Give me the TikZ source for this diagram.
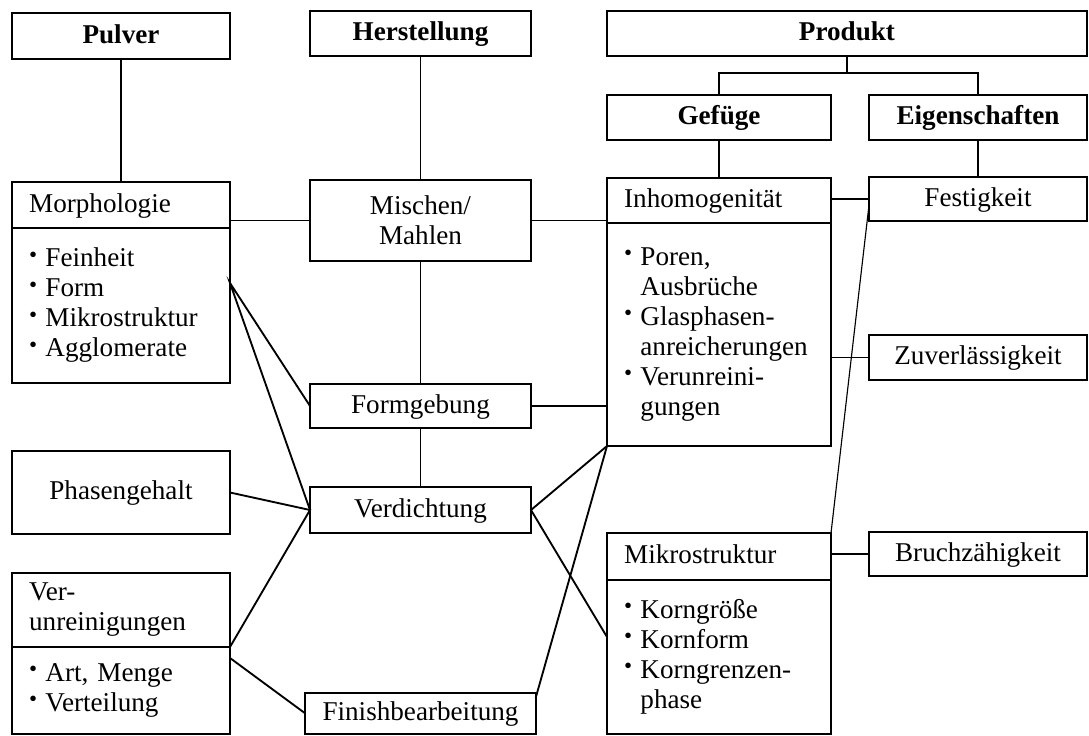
\documentclass[tikz,border=0pt]{standalone}
\usepackage{fontspec}
\setmainfont{Liberation Serif}
\usepackage{tikz}
\usetikzlibrary{positioning,calc}
\newcommand{\pkt}{\makebox[0.6em][l]{\raisebox{.4ex}{\scalebox{.85}{\textbullet}}}}
\newcommand{\ein}{\hspace*{0.6em}}

\begin{document}
\begin{tikzpicture}[x=0.35pt, y=-0.35pt, font=\fontsize{9.5}{10.5}\selectfont,
 box/.style={draw, line width=0.75pt, outer sep=0pt, inner xsep=6pt, inner ysep=1pt,
 minimum width=76.3pt, minimum height=15.75pt, align=center},
 one/.style={text height=7pt, text depth=2pt},
 title/.style={box, one, font=\fontsize{9.5}{10.5}\selectfont\bfseries},
 lbox/.style={box, align=left, text width=#1},
 link/.style={line width=0.65pt}]
\useasboundingbox (0,0) rectangle (1089,736);
% Kopfzeile
\node[title, minimum height=16.1pt] (pulver) at (121,36) {Pulver};
\node[title, minimum width=77.35pt] (herst) at (420.5,33.5) {Herstellung};
\node[title, minimum width=168pt] (prod) at (847,33.5) {Produkt};
\node[title, minimum width=78.4pt] (gef) at (719,117.5) {Gefüge};
\node[title] (eig) at (978,117.5) {Eigenschaften};
% Pulver
\node[lbox=64.3pt, one, minimum height=16.1pt] (morphH) at (121,205) {Morphologie};
\node[lbox=64.3pt, minimum height=54.25pt, below=0pt of morphH] (morphB)
 {\pkt Feinheit\\ \pkt Form\\ \pkt Mikrostruktur\\ \pkt Agglomerate};
\node[box, one, minimum height=29.05pt] (phas) at (121,492.5) {Phasengehalt};
\node[lbox=64.3pt, minimum height=25.9pt] (verunH) at (121,610) {Ver-\\unreinigungen};
\node[lbox=64.3pt, minimum height=30.45pt, below=0pt of verunH] (verunB)
 {\pkt Art, Menge\\ \pkt Verteilung};
% Herstellung
\node[box, minimum width=77.35pt, minimum height=28.35pt] (misch) at (420.5,220.5) {Mischen/\\Mahlen};
\node[box, one, minimum width=77.35pt, minimum height=15.4pt] (form) at (420.5,406) {Formgebung};
\node[box, one, minimum width=77.35pt, minimum height=16.1pt] (verd) at (420.5,510) {Verdichtung};
\node[box, one, minimum width=77.35pt, minimum height=14.35pt] (fin) at (420.5,713.5) {Finishbearbeitung};
% Gefuege
\node[lbox=66.4pt, one] (inhH) at (719,200.5) {Inhomogenität};
\node[lbox=66.4pt, minimum height=78.05pt, below=0pt of inhH] (inhB)
 {\pkt Poren,\\ \ein Ausbrüche\\ \pkt Glasphasen-\\ \ein anreicherungen\\ \pkt Verunreini-\\ \ein gungen};
\node[lbox=66.4pt, one, minimum height=16.45pt] (mikH) at (719,556.5) {Mikrostruktur};
\node[lbox=66.4pt, minimum height=53.9pt, below=0pt of mikH] (mikB)
 {\pkt Korngröße\\ \pkt Kornform\\ \pkt Korngrenzen-\\ \ein phase};
% Eigenschaften
\node[box, one, minimum height=15.4pt] (fest) at (978,199) {Festigkeit};
\node[box, one] (zuv) at (978,357.5) {Zuverlässigkeit};
\node[box, one, minimum height=15.4pt] (bruch) at (978,554) {Bruchzähigkeit};

\draw[link] (pulver) -- (morphH);
\draw[link] (herst) -- (misch) -- (form) -- (verd);
\draw[link] (prod.south) -- ++(0,17);
\draw[link] (gef.north) |- ($(prod.south)+(0,17)$) -| (eig.north);
\draw[link] (gef) -- (inhH);
\draw[link] (eig) -- (fest);
\draw[link] (misch.west) -- (misch.west -| morphH.east);
\draw[link] (misch.east) -- (misch.east -| inhH.west);
\draw[link] (form.east) -- (form.east -| inhB.west);
\coordinate (m1) at ($(morphB.north east)+(0,55)$);
\draw[link] (form.west) -- (m1) -- (verd.west);
\draw[link] (phas.east) -- (verd.west) -- (verunH.south east);
\draw[link] ($(verunB.north east)+(0,11)$) -- (fin.west);
\draw[link] (inhB.south west) -- (verd.east) -- ($(mikB.north west)+(0,57)$);
\draw[link] ($(fin.north east)+(0,5)$) -- (inhB.south west);
\draw[link] (fest.west) -- (fest.west -| inhH.east);
\draw[link] (zuv.west) -- (zuv.west -| inhB.east);
\draw[link] (bruch.west) -- (bruch.west -| mikH.east);
\draw[line width=0.4pt] ($(fest.south west)+(0,-16)$) -- (mikH.north east);
\end{tikzpicture}
\end{document}
